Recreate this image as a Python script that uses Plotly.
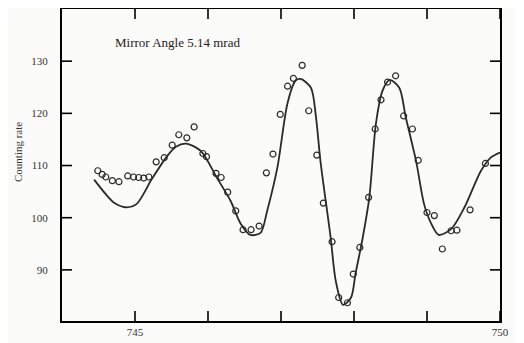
import plotly.graph_objects as go

# Measured data points (open circles)
data_x = [744.49, 744.55, 744.60, 744.69, 744.78, 744.90, 744.98, 745.05, 745.12, 745.19,
          745.29, 745.40, 745.51, 745.60, 745.71, 745.81, 745.93, 745.98, 746.11, 746.18,
          746.27, 746.38, 746.48, 746.59, 746.70, 746.80, 746.89, 746.99, 747.09, 747.17,
          747.29, 747.38, 747.49, 747.58, 747.70, 747.79, 747.91, 747.99, 748.08, 748.20,
          748.29, 748.37, 748.46, 748.57, 748.68, 748.80, 748.88, 749.00, 749.10, 749.21,
          749.33, 749.41, 749.59, 749.80]
data_y = [109.0, 108.3, 107.8, 107.1, 106.9, 108.0, 107.8, 107.7, 107.6, 107.8,
          110.7, 111.5, 113.9, 115.9, 115.3, 117.4, 112.3, 111.7, 108.5, 107.7,
          104.9, 101.3, 97.7, 97.7, 98.4, 108.6, 112.2, 119.8, 125.2, 126.7,
          129.2, 120.5, 112.0, 102.8, 95.4, 84.7, 83.7, 89.2, 94.3, 103.9,
          117.0, 122.6, 126.0, 127.2, 119.5, 117.0, 111.0, 101.0, 100.4, 94.0,
          97.5, 97.6, 101.5, 110.4]

# Fitted curve (solid line)
fit_x = [744.44, 744.60, 744.72, 744.87, 745.02, 745.23, 745.44, 745.56, 745.70, 745.90,
         746.12, 746.31, 746.45, 746.58, 746.72, 746.81, 746.95, 747.09, 747.20, 747.27,
         747.41, 747.48, 747.54, 747.68, 747.75, 747.85, 747.96, 748.02, 748.12, 748.21,
         748.30, 748.39, 748.49, 748.62, 748.71, 748.85, 748.96, 749.06, 749.16, 749.33,
         749.51, 749.74, 749.88, 750.00]
fit_y = [107.3, 104.5, 102.8, 102.0, 102.6, 107.4, 111.8, 113.6, 114.2, 112.8,
         107.7, 103.2, 98.8, 96.7, 97.1, 101.3, 109.6, 122.0, 126.3, 126.6,
         124.9, 119.2, 110.9, 96.2, 87.9, 83.3, 84.7, 89.2, 96.2, 103.9,
         118.0, 124.3, 126.4, 124.9, 119.2, 110.9, 102.6, 98.8, 96.7, 97.8,
         101.9, 109.0, 111.6, 112.5]

x_ticks = [745, 746, 747, 748, 749, 750]
x_ticktext = ["745", "", "", "", "", "750"]
y_ticks = [90, 100, 110, 120, 130]

X_RANGE = [744, 750]
Y_RANGE = [80.2, 140]

# page body has an 8px default margin, so the figure is shifted; compensate
L, T, W, H = 54, 1, 438, 312
TICK = 10  # px, inward tick length on all four sides
dx = TICK * (X_RANGE[1] - X_RANGE[0]) / W
dy = TICK * (Y_RANGE[1] - Y_RANGE[0]) / H

# inward tick marks on all four sides, built from the tick arrays
tx, ty = [], []
for t in x_ticks:
    tx += [t, t, None, t, t, None]
    ty += [Y_RANGE[0], Y_RANGE[0] + dy, None, Y_RANGE[1], Y_RANGE[1] - dy, None]
for t in y_ticks:
    tx += [X_RANGE[0], X_RANGE[0] + dx, None, X_RANGE[1], X_RANGE[1] - dx, None]
    ty += [t, t, None, t, t, None]

ink = "#2a2a2a"
fig = go.Figure()
fig.add_trace(go.Scatter(x=tx, y=ty, mode="lines", line=dict(color="black", width=1.6),
                         hoverinfo="skip", showlegend=False, cliponaxis=False))
fig.add_trace(go.Scatter(x=fit_x, y=fit_y, mode="lines",
                         line=dict(color=ink, width=1.8, shape="spline", smoothing=0.8),
                         hoverinfo="skip", showlegend=False))
fig.add_trace(go.Scatter(x=data_x, y=data_y, mode="markers",
                         marker=dict(symbol="circle-open", size=6, color=ink,
                                     line=dict(width=1.2, color=ink)),
                         showlegend=False))

axis_common = dict(showgrid=False, zeroline=False, showline=True, linecolor="black",
                   linewidth=2, mirror=True, ticks="",
                   tickfont=dict(family="Liberation Serif", size=11, color="#333"))

fig.update_xaxes(range=X_RANGE, tickmode="array", tickvals=x_ticks,
                 ticktext=x_ticktext, **axis_common)
fig.update_yaxes(range=Y_RANGE, tickmode="array", tickvals=y_ticks,
                 ticklabelstandoff=10, **axis_common)

fig.add_annotation(text="Mirror Angle 5.14 mrad", xref="paper", yref="paper",
                   x=(105 - L) / W, y=(T + H - 35) / H, xanchor="left", yanchor="middle",
                   showarrow=False, font=dict(family="Liberation Serif", size=13, color="#222"))
fig.add_annotation(text="Counting rate", xref="paper", yref="paper",
                   x=(10 - L) / W, y=(T + H - 144) / H, xanchor="center", yanchor="middle",
                   textangle=-90, showarrow=False,
                   font=dict(family="Liberation Serif", size=11, color="#333"))

fig.update_layout(template="none", width=516, height=335,
                  margin=dict(l=L, r=24, t=T, b=22),
                  paper_bgcolor="#fbfbf9", plot_bgcolor="#fbfbf9")

fig.write_html("out.html")
